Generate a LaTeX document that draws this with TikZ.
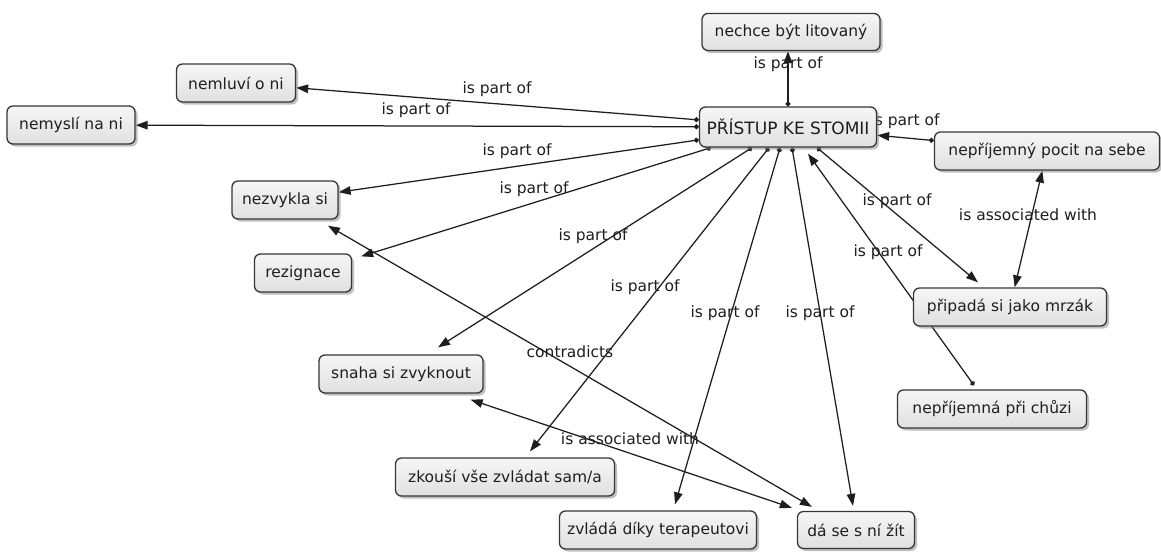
\documentclass[tikz,border=0pt]{standalone}
\usepackage{fontspec}
\setmainfont{DejaVu Sans}
\usetikzlibrary{arrows.meta,shadows,backgrounds}
\definecolor{ink}{RGB}{30,30,30}
\definecolor{boxtop}{RGB}{246,246,246}
\definecolor{boxbot}{RGB}{224,224,224}
\definecolor{frame}{RGB}{55,55,55}
\begin{document}
\begin{tikzpicture}[x=1pt,y=-1pt,
  concept/.style={draw=frame, line width=1.3pt, rounded corners=6pt,
    top color=boxtop, bottom color=boxbot,
    drop shadow={shadow xshift=2.5pt, shadow yshift=-2.5pt, opacity=0.5, fill=gray},
    font=\fontsize{15.5}{18}\selectfont, text=ink, inner sep=0pt, minimum height=38pt},
  lbl/.style={font=\fontsize{15.5}{18}\selectfont, text=ink, inner sep=0pt},
  link/.style={draw=ink, line width=1.25pt, {Circle[length=5pt]}-{Triangle[length=12pt,width=8.5pt]}},
  both/.style={draw=ink, line width=1.25pt, {Triangle[length=12pt,width=8.5pt]}-{Triangle[length=12pt,width=8.5pt]}}]
\useasboundingbox (0,0) rectangle (1161,552);

% concepts
\node[concept, minimum width=178pt, minimum height=37pt] (lit) at (791,32) {nechce být litovaný};
\node[concept, minimum width=177pt, minimum height=40pt, font=\fontsize{17}{20}\selectfont] (c) at (788,127) {PŘÍSTUP KE STOMII};
\node[concept, minimum width=119pt] (mlu) at (236,83) {nemluví o ni};
\node[concept, minimum width=128pt] (mys) at (71,125) {nemyslí na ni};
\node[concept, minimum width=106pt] (zvy) at (285,200) {nezvykla si};
\node[concept, minimum width=97pt] (rez) at (303,273) {rezignace};
\node[concept, minimum width=225pt] (poc) at (1047,151) {nepříjemný pocit na sebe};
\node[concept, minimum width=193pt] (mrz) at (1010,307) {připadá si jako mrzák};
\node[concept, minimum width=189pt] (chu) at (992,409) {nepříjemná při chůzi};
\node[concept, minimum width=164pt] (sna) at (401,374) {snaha si zvyknout};
\node[concept, minimum width=219pt] (zko) at (505,477) {zkouší vše zvládat sam/a};
\node[concept, minimum width=197pt] (ter) at (658,530) {zvládá díky terapeutovi};
\node[concept, minimum width=117pt, minimum height=37pt] (zit) at (856,530) {dá se s ní žít};

\begin{scope}[on background layer]
  \fill[white] (0,0) rectangle (1161,552);
  % linking phrases
  \node[lbl] (l1) at (788,64) {is part of};
  \node[lbl] (l2) at (497,89) {is part of};
  \node[lbl] (l3) at (416,110) {is part of};
  \node[lbl] (l4) at (517,151) {is part of};
  \node[lbl] (l5) at (534,189) {is part of};
  \node[lbl] (l6) at (593,236) {is part of};
  \node[lbl] (l7) at (645,287) {is part of};
  \node[lbl] (l8) at (725,313) {is part of};
  \node[lbl] (l9) at (820,313) {is part of};
  \node[lbl] (l10) at (897,201) {is part of};
  \node[lbl] (l11) at (888,252) {is part of};
  \node[lbl] (l12) at (905,121) {is part of};
  \node[lbl] (l13) at (1028,215) {is associated with};
  \node[lbl] (l14) at (570,352) {contradicts};
  \node[lbl] (l15) at (630,439) {is associated with};
  % connectors
  \draw[link] (c.north) -- (c.north |- lit.south);
  \draw[link] (c) -- (mlu);
  \draw[link] (c) -- (mys);
  \draw[link] (c) -- (zvy);
  \draw[link] ([xshift=-77pt]c.south) -- ([xshift=9pt,yshift=-3pt]rez.north east);
  \draw[link] ([xshift=-36pt]c.south) -- ([xshift=37pt,yshift=7pt]sna.north);
  \draw[link] ([xshift=-19pt]c.south) -- ([xshift=25pt,yshift=6pt]zko.north);
  \draw[link] ([xshift=-8pt]c.south) -- ([xshift=17pt,yshift=6pt]ter.north);
  \draw[link] ([xshift=4pt]c.south) -- ([xshift=-3pt,yshift=5pt]zit.north);
  \draw[link] ([xshift=29pt]c.south) -- ([xshift=-32pt,yshift=5pt]mrz.north);
  \draw[link] ([xshift=-18pt,yshift=4pt]chu.north) -- ([xshift=20pt,yshift=-6pt]c.south);
  \draw[link] (poc) -- (c);
  \draw[both] (poc) -- (mrz);
  \draw[both] ([xshift=43pt,yshift=-6pt]zvy.south) -- ([xshift=15pt,yshift=4pt]zit.north west);
  \draw[both] ([xshift=-13pt,yshift=-6pt]sna.south east) -- ([xshift=-5pt,yshift=3pt]zit.north west);
\end{scope}
\end{tikzpicture}
\end{document}
